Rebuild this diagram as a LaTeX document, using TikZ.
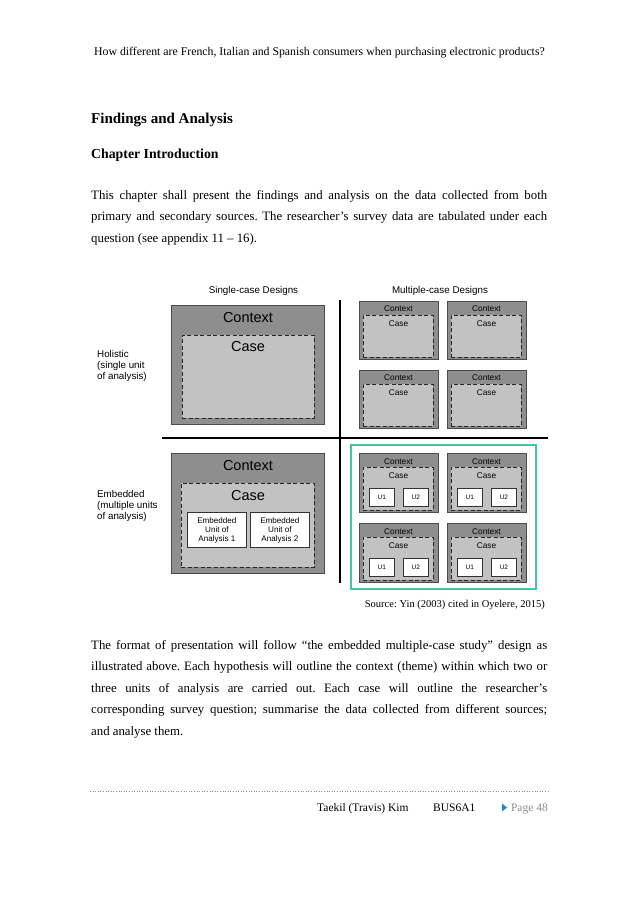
\documentclass[tikz,border=0pt]{standalone}
\usepackage{fontspec}
\setmainfont{Liberation Serif}
\newfontfamily\arialf{Liberation Sans}
\AtBeginDocument{\frenchspacing}
\definecolor{ctxgray}{RGB}{142,142,142}
\definecolor{casegray}{RGB}{194,194,194}
\definecolor{teal2}{RGB}{64,200,165}
\definecolor{ftgray}{RGB}{140,140,140}
\definecolor{triblue}{RGB}{40,130,200}
\newcommand\bodyfont{\fontsize{12.8}{15}\selectfont}
\newcommand\smallcase[3]{%
  \node[ctxbox, minimum width=79pt, minimum height=58pt] (#1) at (#2,#3) {};
  \node[casebox, minimum width=70pt, minimum height=42pt] (#1c) at (#2+4,#3+14) {};
  \node[smalllbl] (#1t) at (#2+39.5,#3+7.5) {Context};
  \node[smalllbl] (#1s) at (#2+39.5,#3+22.5) {Case};
}
\newcommand\embcase[3]{%
  \node[ctxbox, minimum width=79pt, minimum height=59pt] (#1) at (#2,#3) {};
  \node[casebox, minimum width=70pt, minimum height=43pt] (#1c) at (#2+4,#3+14) {};
  \node[smalllbl] (#1t) at (#2+39.5,#3+8.5) {Context};
  \node[smalllbl] (#1s) at (#2+39.5,#3+23) {Case};
  \node[ubox] (#1a) at (#2+10,#3+35) {};
  \node[ulbl] at (#1a.center) {U1};
  \node[ubox] (#1b) at (#2+44,#3+35) {};
  \node[ulbl] at (#1b.center) {U2};
}
\begin{document}
\begin{tikzpicture}[x=1pt,y=-1pt,
  ctxbox/.style={draw=black!70, fill=ctxgray, line width=0.8pt, anchor=north west, inner sep=0pt},
  casebox/.style={draw=black!85, fill=casegray, line width=0.8pt, dash pattern=on 4pt off 2.5pt, anchor=north west, inner sep=0pt},
  ubox/.style={draw=black!80, fill=white, line width=0.8pt, anchor=north west, inner sep=0pt, minimum width=25pt, minimum height=18pt},
  eubox/.style={draw=black!80, fill=white, line width=0.8pt, anchor=north west, inner sep=0pt, minimum width=59pt, minimum height=35pt},
  smalllbl/.style={inner sep=0pt, font=\arialf\fontsize{8.3}{10}\selectfont},
  ulbl/.style={inner sep=0pt, font=\arialf\fontsize{6.5}{8}\selectfont},
  biglbl/.style={inner sep=0pt, font=\arialf\fontsize{14.5}{17}\selectfont},
  sidelbl/.style={inner sep=0pt, anchor=west, align=left, font=\arialf\fontsize{9.8}{11.3}\selectfont},
  headlbl/.style={inner sep=0pt, anchor=base, font=\arialf\fontsize{9.8}{11.3}\selectfont},
  bodyline/.style={inner sep=0pt, anchor=base west, font=\bodyfont},
]
\useasboundingbox[fill=white] (0,0) rectangle (638,903);

% header
\node[inner sep=0pt, anchor=base, font=\fontsize{11.8}{13.5}\selectfont] (hdr) at (319.5,55.5)
  {How different are French, Italian and Spanish consumers when purchasing electronic products?};

% titles
\node[inner sep=0pt, anchor=base west, font=\bfseries\fontsize{15}{18}\selectfont] (title) at (91,123) {Findings and Analysis};
\node[inner sep=0pt, anchor=base west, font=\bfseries\fontsize{13.8}{16}\selectfont] (chap) at (91,158) {Chapter Introduction};

% paragraph 1
\node[bodyline] (p1a) at (91,199) {\makebox[456pt][s]{This chapter shall present the findings and analysis on the data collected from both}};
\node[bodyline] (p1b) at (91,220.8) {\makebox[456pt][s]{primary and secondary sources. The researcher’s survey data are tabulated under each}};
\node[bodyline] (p1c) at (91,242.6) {question (see appendix 11 – 16).};

% diagram headings
\node[headlbl] (sch) at (253.5,293) {Single-case Designs};
\node[headlbl] (mch) at (440,293) {Multiple-case Designs};

% axes
\coordinate (vtop) at (340,300);
\coordinate (vbot) at (340,583);
\coordinate (hl) at (162,438);
\coordinate (hr) at (548,438);
\draw[line width=1.1pt] (vtop) -- (vbot);
\draw[line width=1.1pt] (hl) -- (hr);

% side labels
\node[sidelbl] (hol) at (97,366) {Holistic\\(single unit\\of analysis)};
\node[sidelbl] (emb) at (97,506) {Embedded\\(multiple units\\of analysis)};

% single-case holistic
\node[ctxbox, minimum width=153pt, minimum height=119pt] (sh) at (171,305) {};
\node[casebox, minimum width=132pt, minimum height=83pt] (shc) at (182,335) {};
\node[biglbl] (sht) at (248,317.5) {Context};
\node[biglbl] (shs) at (248,346.7) {Case};

% single-case embedded
\node[ctxbox, minimum width=153pt, minimum height=120pt] (se) at (171,453) {};
\node[casebox, minimum width=133pt, minimum height=84pt] (sec) at (181,483) {};
\node[biglbl] (set) at (248,466) {Context};
\node[biglbl] (ses) at (248,495.5) {Case};
\node[eubox] (eu1) at (187,512) {};
\node[inner sep=0pt, align=center, font=\arialf\fontsize{8.1}{9}\selectfont] (eu1t) at (eu1.center) {Embedded\\Unit of\\Analysis 1};
\node[eubox] (eu2) at (250,512) {};
\node[inner sep=0pt, align=center, font=\arialf\fontsize{8.1}{9}\selectfont] (eu2t) at (eu2.center) {Embedded\\Unit of\\Analysis 2};

% multiple-case holistic
\smallcase{mh1}{359}{301}
\smallcase{mh2}{447}{301}
\smallcase{mh3}{359}{370}
\smallcase{mh4}{447}{370}

% multiple-case embedded
\node[draw=teal2, line width=2.2pt, anchor=north west, inner sep=0pt, minimum width=185pt, minimum height=144pt] (hl2) at (350,444) {};
\embcase{me1}{359}{453}
\embcase{me2}{447}{453}
\embcase{me3}{359}{523}
\embcase{me4}{447}{523}

% source
\node[inner sep=0pt, anchor=base east, font=\fontsize{10.5}{12}\selectfont] (src) at (545,607) {Source: Yin (2003) cited in Oyelere, 2015)};

% paragraph 2
\node[bodyline] (p2a) at (91,649) {\makebox[456pt][s]{The format of presentation will follow “the embedded multiple-case study” design as}};
\node[bodyline] (p2b) at (91,670.5) {\makebox[456pt][s]{illustrated above. Each hypothesis will outline the context (theme) within which two or}};
\node[bodyline] (p2c) at (91,692) {\makebox[456pt][s]{three units of analysis are carried out. Each case will outline the researcher’s}};
\node[bodyline] (p2d) at (91,713.5) {\makebox[456pt][s]{corresponding survey question; summarise the data collected from different sources;}};
\node[bodyline] (p2e) at (91,735) {and analyse them.};

% footer
\coordinate (fl) at (90,791);
\coordinate (fr) at (548,791);
\draw[ftgray, line width=0.6pt, dotted] (fl) -- (fr);
\node[inner sep=0pt, anchor=base west, font=\fontsize{11.5}{13}\selectfont] (auth) at (317,811) {Taekil (Travis) Kim};
\node[inner sep=0pt, anchor=base west, font=\fontsize{11.5}{13}\selectfont] (code) at (433,811) {BUS6A1};
\fill[triblue] (502,803.5) -- (507,807.5) -- (502,811.5) -- cycle;
\node[inner sep=0pt, anchor=base east, text=ftgray, font=\fontsize{11.5}{13}\selectfont] (page) at (548,811) {Page 48};
\end{tikzpicture}
\end{document}
